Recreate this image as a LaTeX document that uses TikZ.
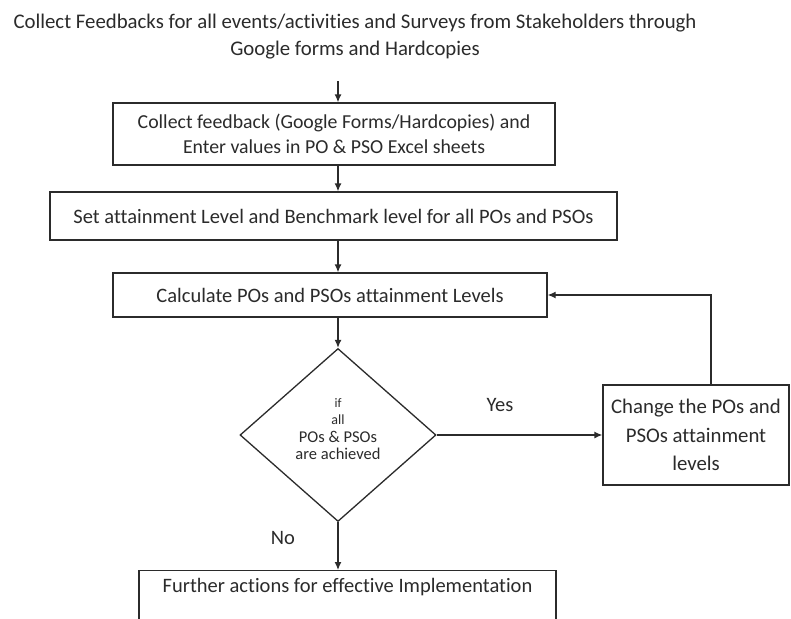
\documentclass[tikz,border=0pt]{standalone}
\usepackage{fontspec}
\setmainfont{Carlito}[Ligatures=NoCommon]
\usetikzlibrary{arrows.meta,shapes.geometric}
\definecolor{ink}{HTML}{2B2B2B}
\begin{document}
\begin{tikzpicture}[x=1pt,y=-1pt,
  every node/.style={text=ink},
  stepbox/.style={draw=ink, line width=1.3pt, rectangle, inner sep=0pt, align=center,
    font=\fontsize{20.5}{25}\selectfont},
  decision/.style={draw=ink, line width=1.3pt, diamond, inner sep=0pt},
  flow/.style={draw=ink, line width=1.3pt, -{Latex[length=8pt,width=7pt]}},
  tag/.style={font=\fontsize{20.5}{22}\selectfont}]
\clip (0,0) rectangle (791,618);
\fill[white] (0,0) rectangle (791,618);

% heading text
\node[align=center, font=\fontsize{20.8}{27}\selectfont] (title) at (355,37)
  {Collect Feedbacks for all events/activities and Surveys from Stakeholders through\\
   Google forms and Hardcopies};

% process boxes
\node[stepbox, minimum width=442, minimum height=62, font=\fontsize{19.8}{25}\selectfont] (b1) at (334,134)
  {Collect feedback (Google Forms/Hardcopies) and\\Enter values in PO \& PSO Excel sheets};
\node[stepbox, minimum width=567, minimum height=48] (b2) at (333.5,216)
  {Set attainment Level and Benchmark level for all POs and PSOs};
\node[stepbox, minimum width=434, minimum height=44] (b3) at (330,295)
  {Calculate POs and PSOs attainment Levels};

% decision
\node[decision, minimum width=196, minimum height=173] (dia) at (338,435) {};
\node[align=center, font=\fontsize{16.5}{17.5}\selectfont] (dtext) at (338,429)
  {{\fontsize{13}{17.5}\selectfont if}\\{\fontsize{14}{17.5}\selectfont all}\\POs \& PSOs\\are achieved};

% side box
\node[stepbox, minimum width=186, minimum height=100,
  font=\fontsize{20.8}{28.5}\selectfont] (chg) at (696,435)
  {Change the POs and\\PSOs attainment\\levels};

% final box (runs past the lower edge)
\node[stepbox, minimum width=417, anchor=north, inner ysep=6pt,
  text height=16pt, text depth=60pt] (fin) at (347.5,570)
  {Further actions for effective Implementation};

% branch labels
\node[tag] (yes) at (500,405) {Yes};
\node[tag] (no) at (283,538) {No};

% connectors
\draw[flow, shorten <=18pt] (title.south -| dia.north) -- (b1.north -| dia.north);
\draw[flow] (b1.south -| dia.north) -- (b2.north -| dia.north);
\draw[flow] (b2.south -| dia.north) -- (b3.north -| dia.north);
\draw[flow] (b3.south -| dia.north) -- (dia.north);
\draw[flow] (dia.east) -- (chg.west |- dia.east);
\draw[flow] (dia.south) -- (fin.north -| dia.south);
\draw[flow] ([xshift=15pt]chg.north) |- (b3.east);
\end{tikzpicture}
\end{document}
